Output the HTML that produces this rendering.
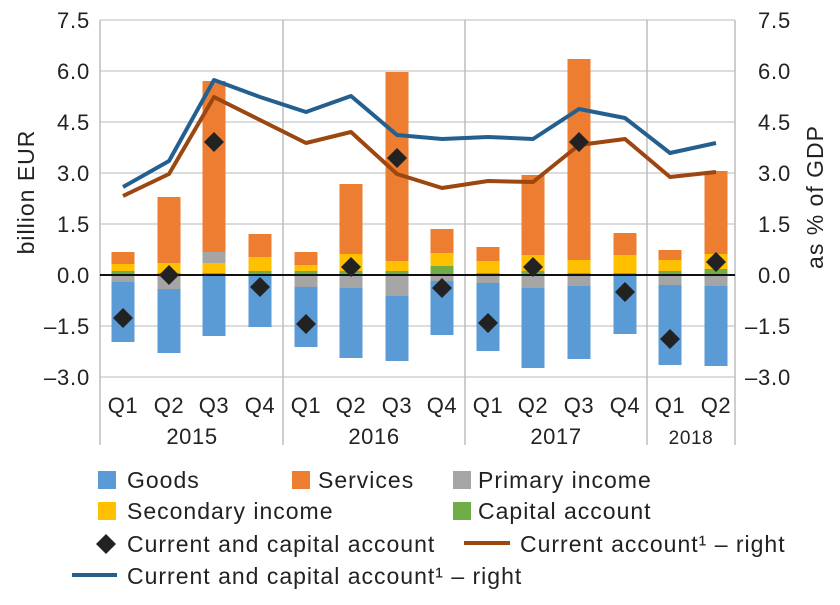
<!DOCTYPE html>
<html><head><meta charset="utf-8"><style>
body{margin:0;background:#fff;}
svg text{font-family:"Liberation Sans",Arial,sans-serif;fill:#222;}
</style></head><body>
<svg width="840" height="600" viewBox="0 0 840 600" xmlns="http://www.w3.org/2000/svg">
<g stroke="#d0d0d0" stroke-width="1.5">
<line x1="100" y1="20" x2="735" y2="20"/><line x1="100" y1="71" x2="735" y2="71"/>
<line x1="100" y1="122" x2="735" y2="122"/><line x1="100" y1="173" x2="735" y2="173"/>
<line x1="100" y1="224" x2="735" y2="224"/><line x1="100" y1="326" x2="735" y2="326"/>
<line x1="100" y1="377" x2="735" y2="377"/>
</g>
<g stroke="#bdbdbd" stroke-width="1.5">
<line x1="100" y1="20" x2="100" y2="445"/><line x1="735" y1="20" x2="735" y2="445"/>
<line x1="283" y1="20" x2="283" y2="445"/><line x1="465" y1="20" x2="465" y2="445"/>
<line x1="647" y1="20" x2="647" y2="445"/>
</g>
<g id="bars"></g>
<line x1="100" y1="275" x2="735" y2="275" stroke="#111" stroke-width="2"/>
<polyline fill="none" stroke="#9c4710" stroke-width="4" stroke-linejoin="round" points="123,196 169,174 214,97 260,120 306,143 351,132 397,174 442,188 488,181 533,182 579,145 625,139 670,177 716,172"/>
<polyline fill="none" stroke="#24608f" stroke-width="4" stroke-linejoin="round" points="123,187 169,161 214,80 260,97 306,112 351,96 397,135 442,139 488,137 533,139 579,109 625,118 670,153 716,143"/>
<g id="dia" fill="#222"></g>
<g font-size="22" text-anchor="end" letter-spacing="0.8">
<text x="90" y="28">7.5</text><text x="90" y="79">6.0</text><text x="90" y="130">4.5</text>
<text x="90" y="181">3.0</text><text x="90" y="232">1.5</text><text x="90" y="283">0.0</text>
<text x="90" y="334">–1.5</text><text x="90" y="385">–3.0</text>
</g>
<g font-size="22" text-anchor="end" letter-spacing="0.8">
<text x="791" y="28">7.5</text><text x="791" y="79">6.0</text><text x="791" y="130">4.5</text>
<text x="791" y="181">3.0</text><text x="791" y="232">1.5</text><text x="791" y="283">0.0</text>
<text x="791" y="334">–1.5</text><text x="791" y="385">–3.0</text>
</g>
<text font-size="23" letter-spacing="1" transform="translate(34,192) rotate(-90)" text-anchor="middle">billion EUR</text>
<text font-size="23" letter-spacing="1" transform="translate(823,197) rotate(-90)" text-anchor="middle">as % of GDP</text>
<g font-size="22" text-anchor="middle" letter-spacing="0.6">
<text x="123" y="413">Q1</text><text x="169" y="413">Q2</text><text x="214" y="413">Q3</text><text x="260" y="413">Q4</text>
<text x="306" y="413">Q1</text><text x="351" y="413">Q2</text><text x="397" y="413">Q3</text><text x="442" y="413">Q4</text>
<text x="488" y="413">Q1</text><text x="533" y="413">Q2</text><text x="579" y="413">Q3</text><text x="625" y="413">Q4</text>
<text x="670" y="413">Q1</text><text x="716" y="413">Q2</text>
<text x="192" y="444">2015</text><text x="374" y="444">2016</text><text x="556" y="444">2017</text><text x="691" y="444" font-size="19">2018</text>
</g>
<g font-size="23" letter-spacing="1">
<rect x="98" y="471" width="18" height="18" fill="#5b9bd5"/><text x="127" y="488">Goods</text>
<rect x="292" y="471" width="18" height="18" fill="#ed7d31"/><text x="318" y="488">Services</text>
<rect x="453" y="471" width="18" height="18" fill="#a5a5a5"/><text x="478" y="488">Primary income</text>
<rect x="98" y="502" width="18" height="18" fill="#ffc000"/><text x="127" y="519">Secondary income</text>
<rect x="453" y="502" width="18" height="18" fill="#70ad47"/><text x="478" y="519">Capital account</text>
<polygon points="106,534 116,544 106,554 96,544" fill="#222"/><text x="127" y="552">Current and capital account</text>
<line x1="464" y1="543" x2="510" y2="543" stroke="#9c4710" stroke-width="4"/><text x="520" y="552">Current account¹ – right</text>
<line x1="72" y1="575" x2="117" y2="575" stroke="#24608f" stroke-width="4"/><text x="127" y="584">Current and capital account¹ – right</text>
</g>
<script>
var d=[
[123,[[271,275,'#70ad47'],[264,271,'#ffc000'],[252,264,'#ed7d31'],[275,282,'#a5a5a5'],[282,342,'#5b9bd5']],318],
[169,[[273,275,'#70ad47'],[263,273,'#ffc000'],[197,263,'#ed7d31'],[275,289,'#a5a5a5'],[289,353,'#5b9bd5']],275],
[214,[[273,275,'#70ad47'],[263,273,'#ffc000'],[252,263,'#a5a5a5'],[81,252,'#ed7d31'],[275,336,'#5b9bd5']],142],
[260,[[271,275,'#70ad47'],[257,271,'#ffc000'],[234,257,'#ed7d31'],[275,327,'#5b9bd5']],287],
[306,[[271,275,'#70ad47'],[265,271,'#ffc000'],[252,265,'#ed7d31'],[275,287,'#a5a5a5'],[287,347,'#5b9bd5']],324],
[351,[[271,275,'#70ad47'],[254,271,'#ffc000'],[184,254,'#ed7d31'],[275,288,'#a5a5a5'],[288,358,'#5b9bd5']],267],
[397,[[271,275,'#70ad47'],[261,271,'#ffc000'],[72,261,'#ed7d31'],[275,296,'#a5a5a5'],[296,361,'#5b9bd5']],158],
[442,[[266,275,'#70ad47'],[253,266,'#ffc000'],[229,253,'#ed7d31'],[275,281,'#a5a5a5'],[281,335,'#5b9bd5']],288],
[488,[[273,275,'#70ad47'],[261,273,'#ffc000'],[247,261,'#ed7d31'],[275,283,'#a5a5a5'],[283,351,'#5b9bd5']],323],
[533,[[271,275,'#70ad47'],[255,271,'#ffc000'],[175,255,'#ed7d31'],[275,288,'#a5a5a5'],[288,368,'#5b9bd5']],267],
[579,[[273,275,'#70ad47'],[260,273,'#ffc000'],[59,260,'#ed7d31'],[275,286,'#a5a5a5'],[286,359,'#5b9bd5']],142],
[625,[[273,275,'#70ad47'],[255,273,'#ffc000'],[233,255,'#ed7d31'],[275,334,'#5b9bd5']],292],
[670,[[271,275,'#70ad47'],[260,271,'#ffc000'],[250,260,'#ed7d31'],[275,285,'#a5a5a5'],[285,365,'#5b9bd5']],339],
[716,[[269,275,'#70ad47'],[254,269,'#ffc000'],[171,254,'#ed7d31'],[275,286,'#a5a5a5'],[286,366,'#5b9bd5']],262]];
var ns="http://www.w3.org/2000/svg",b=document.getElementById('bars'),g=document.getElementById('dia');
d.forEach(function(c){c[1].forEach(function(s){var r=document.createElementNS(ns,'rect');r.setAttribute('x',c[0]-11.5);r.setAttribute('width',23);r.setAttribute('y',s[0]);r.setAttribute('height',s[1]-s[0]);r.setAttribute('fill',s[2]);b.appendChild(r);});
var p=document.createElementNS(ns,'polygon');var x=c[0],y=c[2];p.setAttribute('points',x+','+(y-10)+' '+(x+10)+','+y+' '+x+','+(y+10)+' '+(x-10)+','+y);g.appendChild(p);});
</script>
</svg>
</body></html>
